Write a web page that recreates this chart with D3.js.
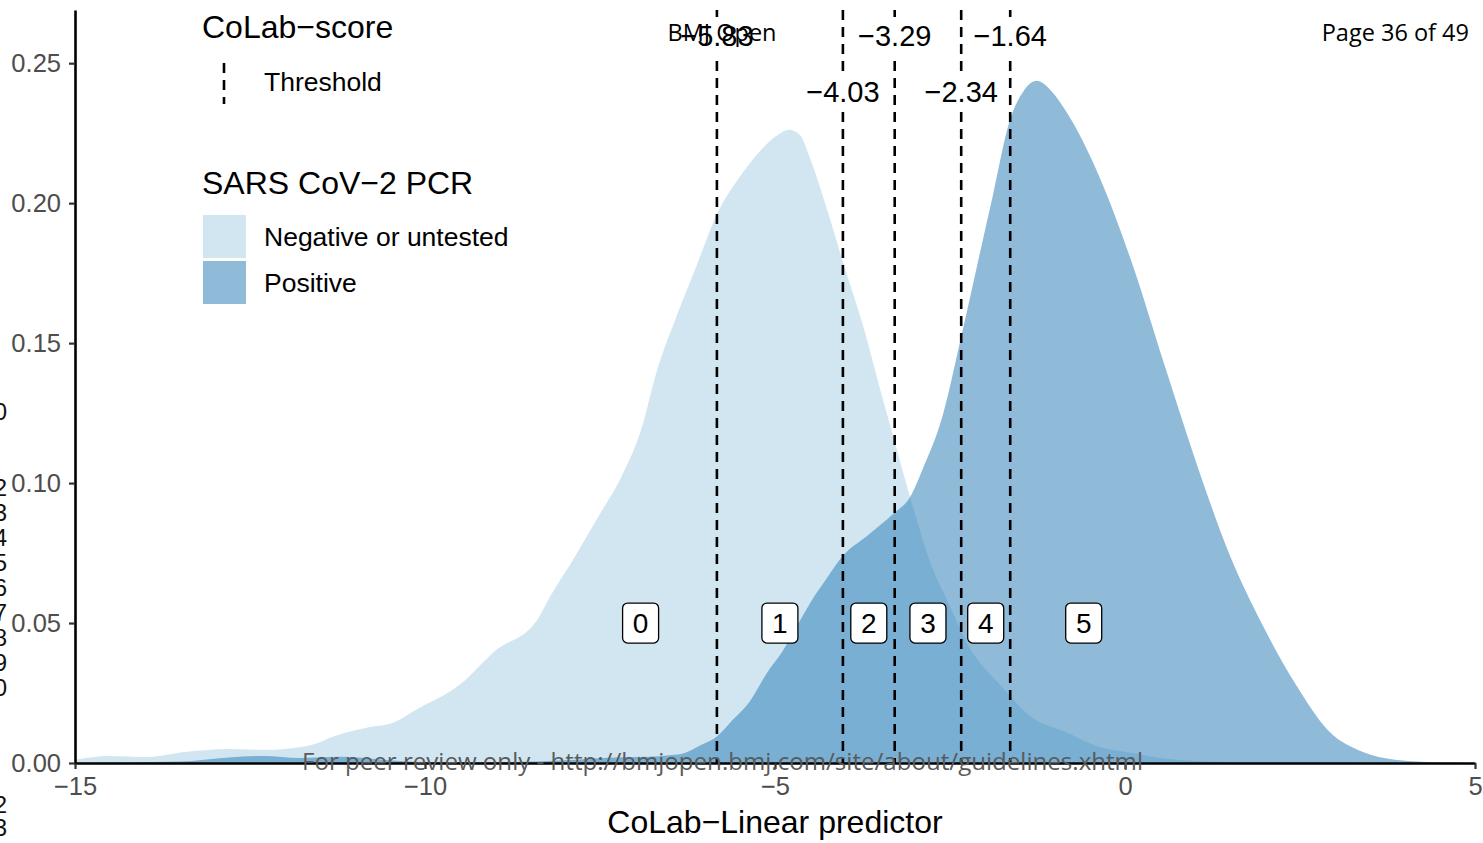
<!DOCTYPE html>
<html>
<head>
<meta charset="utf-8">
<script src="https://cdn.jsdelivr.net/npm/d3@7"></script>
<style>
  body { margin: 0; background: #fff; }
  text { font-family: "Liberation Sans", Arial, sans-serif; }
</style>
</head>
<body>
<svg id="chart" width="1483" height="843"></svg>
<script>
// density of the CoLab linear predictor
const negX = [-15, -14.5, -14, -13.4, -12.8, -12.3, -11.7, -11.2, -10.8, -10.5, -10.1, -9.5, -9.0, -8.4, -8.2, -7.9, -7.5, -7.2, -6.9, -6.7, -6.4, -6.1, -5.83, -5.5, -5.2, -4.95, -4.8, -4.65, -4.5, -4.26, -4.03, -3.74, -3.46, -3.26, -3.07, -2.74, -2.5, -2.26, -1.79, -1.31, -0.84, -0.4, 0.11, 0.6, 1.2, 2, 5];
const negY = [0.0012, 0.0025, 0.0021, 0.004, 0.005, 0.0047, 0.006, 0.0104, 0.0128, 0.014, 0.0194, 0.028, 0.040, 0.051, 0.060, 0.072, 0.089, 0.102, 0.120, 0.139, 0.160, 0.179, 0.196, 0.2095, 0.219, 0.2245, 0.2262, 0.2245, 0.216, 0.198, 0.179, 0.156, 0.130, 0.112, 0.095, 0.069, 0.056, 0.043, 0.028, 0.016, 0.011, 0.006, 0.0036, 0.0015, 0.0005, 0.0001, 0];

const posX = [-15, -13.5, -12.8, -12.3, -11.8, -11.2, -10.6, -10, -9, -8, -7.3, -6.8, -6.54, -6.3, -6.05, -5.83, -5.6, -5.36, -5.12, -4.89, -4.64, -4.4, -4.26, -4.03, -3.69, -3.31, -3.07, -2.89, -2.6, -2.36, -2.11, -1.89, -1.64, -1.45, -1.26, -1.05, -0.84, -0.37, 0.1, 0.56, 1.03, 1.5, 1.97, 2.44, 2.91, 3.39, 3.86, 4.6, 5];
const posY = [0, 0.0005, 0.002, 0.0025, 0.0018, 0.0022, 0.0012, 0.0004, 0.0003, 0.001, 0.002, 0.0022, 0.0027, 0.0035, 0.0065, 0.0095, 0.0155, 0.022, 0.032, 0.040, 0.051, 0.061, 0.066, 0.074, 0.081, 0.089, 0.095, 0.105, 0.1245, 0.150, 0.178, 0.2025, 0.230, 0.240, 0.2437, 0.240, 0.2327, 0.2096, 0.1786, 0.1425, 0.1064, 0.074, 0.049, 0.028, 0.0114, 0.004, 0.0012, 0.0002, 0];

const groups = ["Negative or untested", "Positive"];
const groupColors = ["#a6cee3", "#1f78b4"];

const thresholds = [-5.83, -4.03, -3.29, -2.34, -1.64];
const thresholdRow = [0, 1, 0, 1, 0];

const scoreLabels = ["0", "1", "2", "3", "4", "5"];
const scoreX = [-6.92, -4.93, -3.66, -2.815, -1.99, -0.59];
const scoreY = 0.05;

const xTicks = [-15, -10, -5, 0, 5];
const yTicks = [0, 0.05, 0.10, 0.15, 0.20, 0.25];

const svg = d3.select("#chart");

const x = d3.scaleLinear().domain([-15, 5]).range([75, 1475]);
const y = d3.scaleLinear().domain([0, 0.269]).range([763, 10]);

// cut-off line numbers of the manuscript page at the left edge
const lineNums = ["10", "12", "13", "14", "15", "16", "17", "18", "19", "20", "22", "23"];
const lineNumY = [412, 488, 513, 538, 563, 588, 613, 638, 663, 688, 805, 828];
svg.selectAll(".linenum")
    .data(lineNums)
    .enter().append("text")
    .attr("class", "linenum")
    .attr("x", 7)
    .attr("y", (d, i) => lineNumY[i])
    .attr("dy", "0.35em")
    .attr("text-anchor", "end")
    .style("font-size", "24px")
    .style("fill", "#111")
    .text(d => d);

// density areas
const area = d3.area()
    .x(d => x(d[0]))
    .y0(y(0))
    .y1(d => y(d[1]))
    .curve(d3.curveMonotoneX);

const series = [d3.zip(negX, negY), d3.zip(posX, posY)];

svg.selectAll(".dens")
    .data(series)
    .enter().append("path")
    .attr("class", "dens")
    .attr("d", area)
    .style("fill", (d, i) => groupColors[i])
    .style("fill-opacity", 0.5);

// threshold lines
svg.selectAll(".thr")
    .data(thresholds)
    .enter().append("line")
    .attr("class", "thr")
    .attr("x1", d => x(d))
    .attr("x2", d => x(d))
    .attr("y1", y.range()[1])
    .attr("y2", y(0))
    .style("stroke", "#000")
    .style("stroke-width", 2.6)
    .style("stroke-dasharray", "10,7");

// threshold value labels (white background)
const fmt2 = d3.format(".2f");
const thrLab = svg.selectAll(".thrlab")
    .data(thresholds)
    .enter().append("g")
    .attr("class", "thrlab")
    .attr("transform", (d, i) => `translate(${x(d)},${thresholdRow[i] === 0 ? 36 : 92})`);

thrLab.append("rect").style("fill", "#fff");
thrLab.append("text")
    .attr("text-anchor", "middle")
    .attr("dy", "0.36em")
    .style("font-size", "29px")
    .style("fill", "#000")
    .text(d => fmt2(d));
thrLab.each(function() {
    const g = d3.select(this);
    const bb = g.select("text").node().getBBox();
    g.select("rect")
        .attr("x", bb.x - 4)
        .attr("y", -19)
        .attr("width", bb.width + 8)
        .attr("height", 38);
});

// score labels in boxes
const sc = svg.selectAll(".score")
    .data(scoreLabels)
    .enter().append("g")
    .attr("class", "score")
    .attr("transform", (d, i) => `translate(${x(scoreX[i])},${y(scoreY)})`);

sc.append("rect")
    .attr("x", -18)
    .attr("y", -20)
    .attr("width", 36)
    .attr("height", 40)
    .attr("rx", 5)
    .style("fill", "#fff")
    .style("stroke", "#000")
    .style("stroke-width", 1.3);

sc.append("text")
    .attr("text-anchor", "middle")
    .attr("dy", "0.36em")
    .style("font-size", "28px")
    .style("fill", "#000")
    .text(d => d);

// axes
const xAxis = svg.append("g")
    .attr("transform", `translate(0,${y(0)})`)
    .call(d3.axisBottom(x).tickValues(xTicks).tickSize(6).tickSizeOuter(0));
const yAxis = svg.append("g")
    .attr("transform", `translate(${x(-15)},0)`)
    .call(d3.axisLeft(y).tickValues(yTicks).tickFormat(d3.format(".2f")).tickSize(6).tickSizeOuter(0));

[xAxis, yAxis].forEach(ax => {
    ax.select(".domain").style("stroke", "#000").style("stroke-width", 2.6);
    ax.selectAll(".tick line").style("stroke", "#333").style("stroke-width", 2.2);
    ax.selectAll(".tick text")
        .style("font-family", "'Liberation Sans', Arial, sans-serif")
        .style("font-size", "25.5px")
        .style("fill", "#4d4d4d");
});
xAxis.selectAll(".tick text").attr("y", 14);
yAxis.selectAll(".tick text").attr("x", -14);

svg.append("text")
    .attr("x", x(-5))
    .attr("y", 822)
    .attr("text-anchor", "middle")
    .attr("dy", "0.35em")
    .style("font-size", "32px")
    .style("fill", "#000")
    .text("CoLab\u2212Linear predictor");

// legends
svg.append("text")
    .attr("x", 202).attr("y", 27).attr("dy", "0.35em")
    .style("font-size", "32px")
    .text("CoLab\u2212score");

svg.append("line")
    .attr("x1", 224).attr("x2", 224)
    .attr("y1", 60).attr("y2", 104)
    .style("stroke", "#000")
    .style("stroke-width", 2.6)
    .style("stroke-dasharray", "10,7")
    .style("stroke-dashoffset", -3);

svg.append("text")
    .attr("x", 264).attr("y", 82).attr("dy", "0.35em")
    .style("font-size", "26.5px")
    .text("Threshold");

svg.append("text")
    .attr("x", 202).attr("y", 183).attr("dy", "0.35em")
    .style("font-size", "32px")
    .text("SARS CoV\u22122 PCR");

const leg = svg.selectAll(".leg")
    .data(groups)
    .enter().append("g")
    .attr("class", "leg")
    .attr("transform", (d, i) => `translate(203,${215 + i * 46})`);

leg.append("rect")
    .attr("width", 43)
    .attr("height", 43)
    .style("fill", (d, i) => groupColors[i])
    .style("fill-opacity", 0.5);

leg.append("text")
    .attr("x", 61)
    .attr("y", 22)
    .attr("dy", "0.35em")
    .style("font-size", "26.5px")
    .text(d => d);

// manuscript page furniture
svg.append("text")
    .attr("x", 722).attr("y", 33).attr("dy", "0.35em")
    .attr("text-anchor", "middle")
    .style("font-family", "'Open Sans', 'Noto Sans', sans-serif")
    .style("font-size", "23.5px")
    .text("BMJ Open");

svg.append("text")
    .attr("x", 1469).attr("y", 33).attr("dy", "0.35em")
    .attr("text-anchor", "end")
    .style("font-family", "'Open Sans', 'Noto Sans', sans-serif")
    .style("font-size", "23.5px")
    .text("Page 36 of 49");

svg.append("text")
    .attr("x", 302).attr("y", 762).attr("dy", "0.35em")
    .attr("textLength", 841)
    .attr("lengthAdjust", "spacingAndGlyphs")
    .style("font-family", "'Open Sans', 'Noto Sans', sans-serif")
    .style("font-size", "24px")
    .style("fill", "#5a5a5a")
    .text("For peer review only - http://bmjopen.bmj.com/site/about/guidelines.xhtml");
</script>
</body>
</html>
